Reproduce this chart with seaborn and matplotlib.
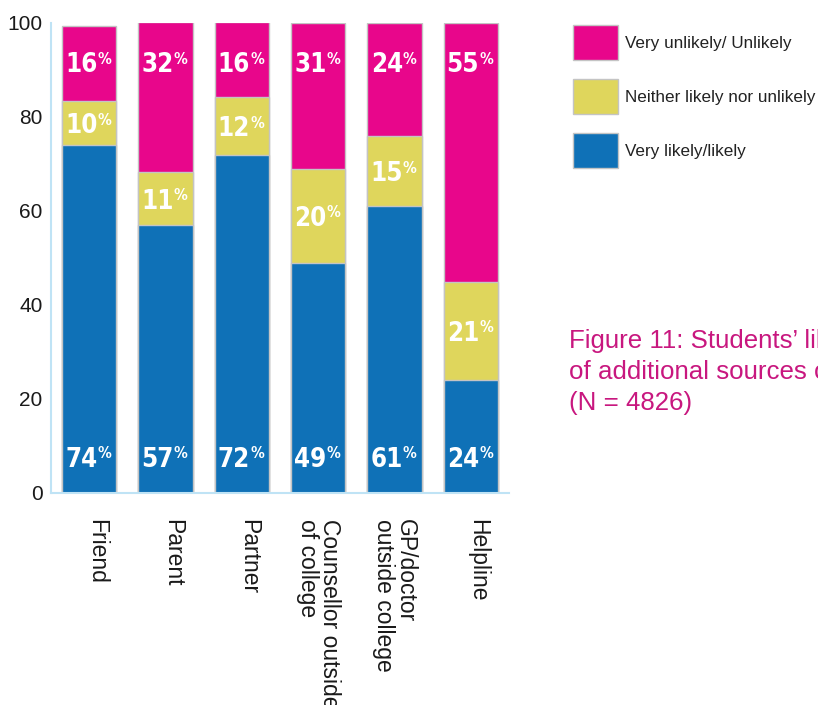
import matplotlib
matplotlib.use("Agg")
import matplotlib.pyplot as plt
import matplotlib.transforms as mtransforms
from matplotlib import font_manager
from matplotlib.patches import Patch
import pandas as pd
import seaborn as sns

# data
sources = ["Friend", "Parent", "Partner", "Counsellor outside\nof college",
           "GP/doctor\noutside college", "Helpline"]
likely = [74, 57, 72, 49, 61, 24]
neither = [9.4, 11.3, 12.2, 20, 15, 21]
unlikely = [16, 32, 16, 31, 24, 55]
likely_labels = [74, 57, 72, 49, 61, 24]
neither_labels = [10, 11, 12, 20, 15, 21]
unlikely_labels = [16, 32, 16, 31, 24, 55]
series_names = ["Very unlikely/ Unlikely", "Neither likely nor unlikely",
                "Very likely/likely"]

pink = "#e8068b"
yellow = "#dfd65c"
blue = "#0f71b7"
spine_blue = "#bfe3f5"
edge = "#c4c4c4"

sns.set_style("white")
plt.rcParams["font.family"] = ["Liberation Sans", "DejaVu Sans"]

df = pd.DataFrame({"source": sources, "likely": likely,
                   "neither": neither, "unlikely": unlikely})
df["mid"] = df["likely"] + df["neither"]
df["top"] = df["mid"] + df["unlikely"]

fig = plt.figure(figsize=(8.18, 7.05), dpi=100)
ax = fig.add_axes([51 / 818, 1 - 493 / 705, (509 - 51) / 818, (493 - 23) / 705])

kw = dict(order=sources, width=0.715, saturation=1, edgecolor=edge,
          linewidth=1, ax=ax)
sns.barplot(data=df, x="source", y="top", color=pink, **kw)
sns.barplot(data=df, x="source", y="mid", color=yellow, **kw)
sns.barplot(data=df, x="source", y="likely", color=blue, **kw)

ax.set_xlim(-0.5, 5.5)
ax.set_ylim(0, 100)
ax.set_xlabel("")
ax.set_ylabel("")

for s in ["top", "right"]:
    ax.spines[s].set_visible(False)
for s in ["left", "bottom"]:
    ax.spines[s].set_color(spine_blue)
    ax.spines[s].set_linewidth(1.5)

ax.set_yticks([0, 20, 40, 60, 80, 100])
ax.tick_params(axis="y", direction="in", length=7, width=1.5,
               color=spine_blue, labelsize=15, labelcolor="#1a1a1a", pad=6)
ax.set_xticks(range(len(sources)))
ax.set_xticklabels(sources, rotation=270, ha="center", va="top",
                   multialignment="left", linespacing=0.95)
ax.tick_params(axis="x", which="major", length=0, labelsize=16.5,
               labelcolor="#1a1a1a", pad=19)
ax.set_xticks([i + 0.5 for i in range(len(sources))], minor=True)
ax.tick_params(axis="x", which="minor", direction="in", length=8, width=1.5,
               color=spine_blue)
for lab in ax.get_xticklabels():
    if "\n" not in lab.get_text():
        lab.set_transform(lab.get_transform() +
                          mtransforms.ScaledTranslation(7 / 100, 0, fig.dpi_scale_trans))

# narrow bold face for the in-bar numbers
narrow = font_manager.FontProperties(family="DejaVu Sans", weight="bold",
                                     stretch="condensed")


def pct_label(x, y, value):
    ax.annotate(str(value), (x, y), xytext=(6, 0), textcoords="offset points",
                ha="right", va="center_baseline", fontproperties=narrow,
                fontsize=18.5, color="white")
    ax.annotate("%", (x, y), xytext=(6, 7.5), textcoords="offset points",
                ha="left", va="top", fontproperties=narrow,
                fontsize=11, color="white")


for i in range(len(sources)):
    pct_label(i, 91.7, unlikely_labels[i])
    pct_label(i, likely[i] + neither[i] / 2, neither_labels[i])
    pct_label(i, 7.7, likely_labels[i])

handles = [Patch(facecolor=c, edgecolor=edge, linewidth=1)
           for c in [pink, yellow, blue]]
ax.legend(handles, series_names, loc="upper left",
          bbox_to_anchor=(573 / 818, 1 - 25 / 705), bbox_transform=fig.transFigure,
          frameon=False, handlelength=2.63, handleheight=2.78, handletextpad=0.4,
          labelspacing=1.11, borderpad=0, borderaxespad=0,
          prop=dict(size=12.3), labelcolor="#222222")

fig.text(569 / 818, 1 - 410 / 705,
         "Figure 11: Students\u2019 likelihood of using\nof additional sources of support\n(N = 4826)",
         ha="left", va="baseline", fontsize=18.6, color="#c8177f", linespacing=1.36)

fig.savefig("out.png", dpi=100)
